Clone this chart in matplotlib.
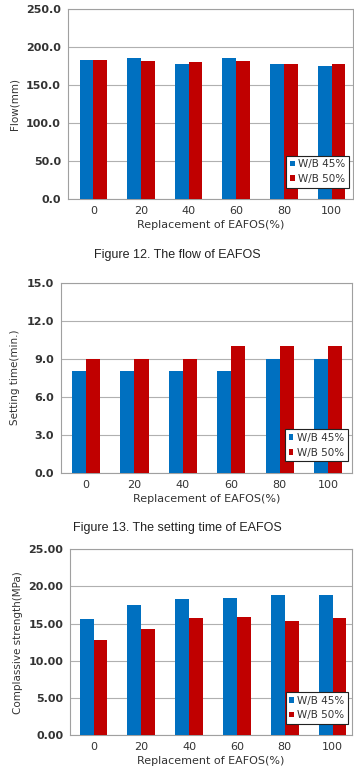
import matplotlib
matplotlib.use("Agg")
import matplotlib.pyplot as plt
import numpy as np

categories = ["0", "20", "40", "60", "80", "100"]
series_names = ["W/B 45%", "W/B 50%"]

flow_45 = [183, 185, 178, 185, 177, 175]
flow_50 = [183, 181, 180, 182, 177, 177]

setting_45 = [8, 8, 8, 8, 9, 9]
setting_50 = [9, 9, 9, 10, 10, 10]

strength_45 = [15.6, 17.5, 18.3, 18.4, 18.8, 18.9]
strength_50 = [12.8, 14.3, 15.8, 15.9, 15.4, 15.8]

flow_ticks = [0, 50, 100, 150, 200, 250]
setting_ticks = [0, 3, 6, 9, 12, 15]
strength_ticks = [0, 5, 10, 15, 20, 25]

BLUE = "#0070C0"
RED = "#C00000"
TXT = "#333333"

fig = plt.figure(figsize=(3.54, 7.83), dpi=100)

def draw(rect, v45, v50, ticks, fmt, ylabel, xlim, ylabelpad):
    ax = fig.add_axes(rect)
    x = np.arange(len(categories))
    w = 0.29
    ax.bar(x - w / 2, v45, w, color=BLUE, label=series_names[0], zorder=3)
    ax.bar(x + w / 2, v50, w, color=RED, label=series_names[1], zorder=3)
    ax.set_xlim(*xlim)
    ax.set_ylim(ticks[0], ticks[-1])
    ax.set_yticks(ticks)
    ax.set_yticklabels([fmt.format(t) for t in ticks], fontsize=8, color=TXT, fontweight="bold")
    ax.set_xticks(x)
    ax.set_xticklabels(categories, fontsize=8, color=TXT)
    ax.tick_params(length=0, pad=5)
    ax.yaxis.grid(True, color="#b0b0b0", linewidth=0.8, zorder=0)
    for s in ax.spines.values():
        s.set_color("#a0a0a0")
        s.set_linewidth(0.8)
    ax.set_xlabel("Replacement of EAFOS(%)", fontsize=8, color=TXT, labelpad=3)
    ax.set_ylabel(ylabel, fontsize=7.5, color=TXT, labelpad=ylabelpad)
    leg = ax.legend(loc="lower right", bbox_to_anchor=(0.985, 0.06), fontsize=7.5,
                    frameon=True, fancybox=False, framealpha=1,
                    handlelength=0.45, handleheight=0.45, handletextpad=0.3,
                    borderpad=0.35, labelspacing=0.45, borderaxespad=0.0)
    leg.get_frame().set_edgecolor("#222222")
    leg.get_frame().set_linewidth(0.8)
    for t in leg.get_texts():
        t.set_color(TXT)
    return ax

draw([0.192, 0.7458, 0.805, 0.2427], flow_45, flow_50, flow_ticks, "{:.1f}", "Flow(mm)", (-0.535, 5.45), 5)
fig.text(0.5, 1 - 255 / 783, "Figure 12. The flow of EAFOS", ha="center", va="center",
         fontsize=9, family="Liberation Sans", color="#222222")

draw([0.172, 0.3963, 0.822, 0.2427], setting_45, setting_50, setting_ticks, "{:.1f}", "Setting time(min.)", (-0.52, 5.49), 5)
fig.text(0.5, 1 - 528 / 783, "Figure 13. The setting time of EAFOS", ha="center", va="center",
         fontsize=9, family="Liberation Sans", color="#222222")

draw([0.198, 0.0613, 0.797, 0.2372], strength_45, strength_50, strength_ticks, "{:.2f}", "Complassive strength(MPa)", (-0.49, 5.41), 4)

fig.savefig("out.png", dpi=100)
